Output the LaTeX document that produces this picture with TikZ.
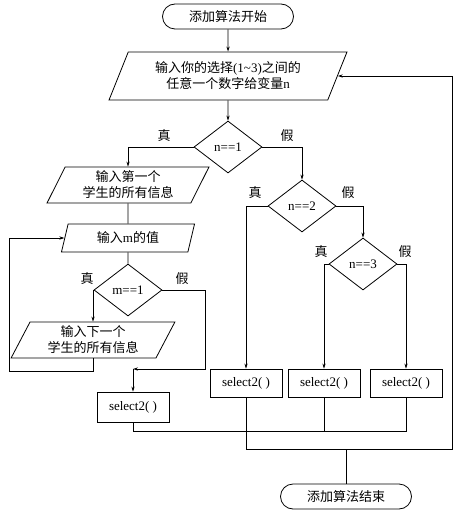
\documentclass[tikz,border=0pt]{standalone}
\usepackage{fontspec}
\setmainfont{Liberation Serif}
\newfontfamily\cjk{Noto Sans CJK SC}
\usetikzlibrary{arrows.meta,shapes.geometric,shapes.misc}
\newcommand{\lat}[1]{{\rmfamily #1}}
\tikzset{
  flow/.style={line width=0.8pt},
  arrow/.style={flow, -{Stealth[length=5pt,width=3.2pt]}},
  txt/.style={font=\cjk\fontsize{13}{16}\selectfont},
  terminal/.style={
    rounded rectangle,
    draw, flow, txt,
    minimum width=131pt,
    minimum height=25pt,
    inner sep=0pt
  },
  iobox/.style={
    trapezium,
    trapezium stretches=true,
    draw, flow, txt,
    align=center,
    inner sep=0pt
  },
  test/.style={
    diamond,
    draw, flow,
    minimum width=68pt,
    minimum height=52pt,
    inner sep=0pt,
    font=\fontsize{13}{15}\selectfont
  },
  callbox/.style={
    rectangle,
    draw, flow,
    minimum width=72pt,
    minimum height=28pt,
    font=\fontsize{13}{15}\selectfont
  },
  branch/.style={txt}
}

\begin{document}
\begin{tikzpicture}[x=1pt,y=-1pt]
  \useasboundingbox (0,0) rectangle (464,516);
  % main column
  \node[terminal] (start) at (228,16.5) {添加算法开始};
  \node[iobox, trapezium left angle=63.4, trapezium right angle=116.6,
    minimum width=238pt, minimum height=48pt] (input) at (228,76)
    {输入你的选择\lat{(1\textasciitilde3)}之间的\\任意一个数字给变量\lat{n}};
  \node[test] (d1) at (228,147) {n==1};
  % left branch
  \node[iobox, trapezium left angle=65, trapezium right angle=115,
    minimum width=162pt, minimum height=36pt] (first) at (128,185)
    {输入第一个\\学生的所有信息};
  \node[iobox, trapezium left angle=74, trapezium right angle=106,
    minimum width=134pt, minimum height=28pt] (readm) at (128,238)
    {输入\lat{m}的值};
  \node[test] (dm) at (128,290) {m==1};
  \node[iobox, trapezium left angle=64, trapezium right angle=116,
    minimum width=164pt, minimum height=36pt] (next) at (93,340)
    {输入下一个\\学生的所有信息};
  \node[callbox, minimum height=30pt] (sel0) at (133,407) {select2( )};
  % right branch
  \node[test] (d2) at (302,206) {n==2};
  \node[test] (d3) at (363,264) {n==3};
  \node[callbox] (sel1) at (246,383) {select2( )};
  \node[callbox] (sel2) at (324,383) {select2( )};
  \node[callbox] (sel3) at (406,383) {select2( )};
  \node[terminal] (stop) at (346,496.5) {添加算法结束};
  % branch labels
  \node[branch] (d1yes) at (164,136) {真};
  \node[branch] (d1no) at (287,136) {假};
  \node[branch] (dmyes) at (87,279) {真};
  \node[branch] (dmno) at (182,279) {假};
  \node[branch] (d2yes) at (255,193) {真};
  \node[branch] (d2no) at (348,193) {假};
  \node[branch] (d3yes) at (321,252) {真};
  \node[branch] (d3no) at (405,252) {假};
  % connectors
  \draw[arrow] (start) -- (input);
  \draw[arrow] (input) -- (d1);
  \draw[arrow] (d1.west) -| (first.north);
  \draw[arrow] (d1.east) -| (d2.north);
  \draw[flow] (first) -- (readm);
  \draw[flow] (readm) -- (dm);
  \draw[arrow] (dm.west) -| (next.north);
  \coordinate (mfalse) at (205,369);
  \coordinate (mjoin) at (133,369);
  \draw[arrow] (dm.east) -| (mfalse) -- (mjoin);
  \draw[arrow] (mjoin) -- (sel0);
  \coordinate (loop) at (9,371);
  \draw[arrow] (next.south) |- (loop) |- (readm.west);
  \draw[arrow] (d2.west) -| (sel1.north);
  \draw[arrow] (d2.east) -| (d3.north);
  \draw[arrow] (d3.west) -| (sel2.north);
  \draw[arrow] (d3.east) -| (sel3.north);
  \coordinate (join) at (406,431);
  \draw[flow] (sel0.south) |- (join) -- (sel3.south);
  \draw[flow] (sel2.south) -- (sel2.south |- join);
  \coordinate (back) at (452,449);
  \draw[arrow] (sel1.south) |- (back) |- (input.east);
  \draw[flow] (stop.north) -- (stop.north |- back);
\end{tikzpicture}
\end{document}
